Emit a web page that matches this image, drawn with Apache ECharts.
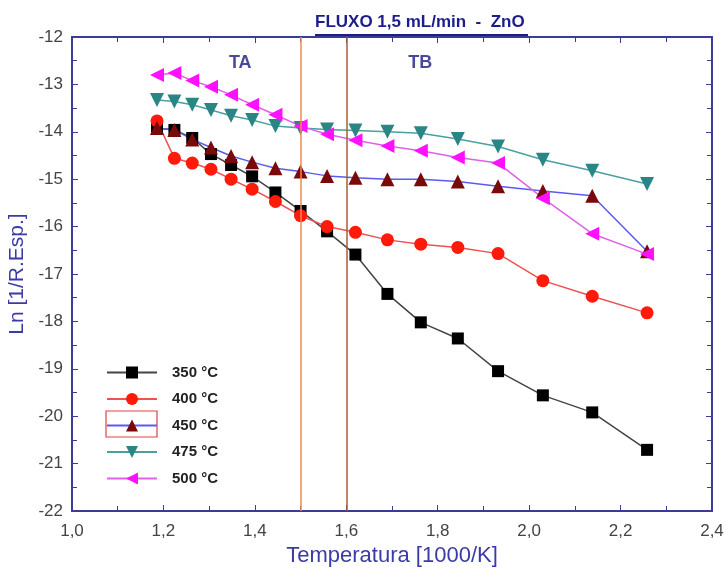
<!DOCTYPE html>
<html>
<head>
<meta charset="utf-8">
<script src="https://cdn.jsdelivr.net/npm/echarts@6/dist/echarts.min.js"></script>
<style>
  html, body { margin: 0; padding: 0; background: #fff; }
  #chart { width: 725px; height: 568px; }
</style>
</head>
<body>
<div id="chart"></div>
<script>
// 1000/T values (same for all curves)
var tempX = [1.186, 1.224, 1.263, 1.304, 1.348, 1.394, 1.445, 1.500, 1.558,
             1.620, 1.690, 1.763, 1.844, 1.932, 2.030, 2.138, 2.258];

var s350 = [-13.92, -13.96, -14.13, -14.47, -14.70, -14.94, -15.28, -15.67, -16.10,
            -16.59, -17.42, -18.02, -18.36, -19.05, -19.56, -19.92, -20.71];
var s400 = [-13.77, -14.56, -14.66, -14.79, -15.00, -15.21, -15.47, -15.77, -16.00,
            -16.12, -16.28, -16.37, -16.44, -16.57, -17.14, -17.47, -17.82];
var s450 = [-13.92, -13.96, -14.16, -14.33, -14.51, -14.64, -14.77, -14.84, -14.93,
            -14.97, -15.00, -15.00, -15.05, -15.15, -15.25, -15.35, -16.52];
var s475 = [-13.33, -13.36, -13.43, -13.54, -13.66, -13.75, -13.88, -13.92, -13.95,
            -13.97, -14.00, -14.03, -14.15, -14.31, -14.59, -14.82, -15.10];
var s500 = [-12.80, -12.76, -12.92, -13.05, -13.22, -13.43, -13.64, -13.88, -14.05,
            -14.18, -14.30, -14.40, -14.54, -14.66, -15.40, -16.15, -16.58];

var seriesNames = ['350 °C', '400 °C', '450 °C', '475 °C', '500 °C'];
var regionBounds = [1.5, 1.6];
var regionLabels = ['TA', 'TB'];
var regionLabelPos = [[1.368, -12.55], [1.762, -12.55]];

var axisColor = '#3b3b9a';
var tickFont = { color: '#444', fontSize: 17, fontFamily: 'Liberation Sans' };

function pairs(ys) {
    return tempX.map(function (x, i) { return [x, ys[i]]; });
}
function commaFmt(v) { return v.toFixed(1).replace('.', ','); }

var myChart = echarts.init(document.getElementById('chart'));
var option = {
    animation: false,
    backgroundColor: '#fff',
    grid: { left: 72, right: 13, top: 37, bottom: 57, outerBoundsMode: 'none' },
    legend: {
        data: seriesNames,
        orient: 'vertical',
        left: 101,
        top: 360,
        itemWidth: 50,
        itemHeight: 15,
        itemGap: 11.5,
        textStyle: { fontSize: 15, fontWeight: 'bold', color: '#222', fontFamily: 'Liberation Sans',
                     padding: [0, 0, 0, 10] }
    },
    graphic: [
        {
            type: 'text', left: 315, top: 14,
            style: { text: 'FLUXO 1,5 mL/min  -  ZnO', fill: '#1c1c8a',
                     font: 'bold 17px "Liberation Sans"' }
        },
        {
            type: 'line', shape: { x1: 315, y1: 35, x2: 528, y2: 35 },
            style: { stroke: '#1c1c8a', lineWidth: 2 }
        },
        {
            type: 'rect', shape: { x: 106, y: 411, width: 51, height: 26 },
            style: { fill: 'none', stroke: '#e04040', lineWidth: 1.2 }
        }
    ],
    xAxis: [
        {
            type: 'value', min: 1.0, max: 2.4, interval: 0.2,
            name: 'Temperatura [1000/K]', nameLocation: 'middle', nameGap: 29,
            nameTextStyle: { color: '#3b3ba8', fontSize: 22, fontFamily: 'Liberation Sans' },
            axisLine: { lineStyle: { color: axisColor, width: 2 } },
            axisTick: { inside: true, length: 6, lineStyle: { color: axisColor } },
            minorTick: { show: true, splitNumber: 2, length: 5, lineStyle: { color: axisColor } },
            splitLine: { show: false },
            axisLabel: Object.assign({ formatter: commaFmt, margin: 12 }, tickFont)
        },
        {
            type: 'value', min: 1.0, max: 2.4, interval: 0.2, position: 'top',
            axisLine: { lineStyle: { color: axisColor, width: 2 } },
            axisTick: { inside: true, length: 6, lineStyle: { color: axisColor } },
            minorTick: { show: true, splitNumber: 2, length: 5, lineStyle: { color: axisColor } },
            splitLine: { show: false },
            axisLabel: { show: false }
        }
    ],
    yAxis: [
        {
            type: 'value', min: -22, max: -12, interval: 1,
            name: 'Ln [1/R.Esp.]', nameLocation: 'middle', nameGap: 44,
            nameTextStyle: { color: '#3b3ba8', fontSize: 21, fontFamily: 'Liberation Sans' },
            axisLine: { show: true, lineStyle: { color: axisColor, width: 2 } },
            axisTick: { show: true, inside: true, length: 6, lineStyle: { color: axisColor } },
            minorTick: { show: true, splitNumber: 2, length: 5, lineStyle: { color: axisColor } },
            splitLine: { show: false },
            axisLabel: Object.assign({ margin: 9 }, tickFont)
        },
        {
            type: 'value', min: -22, max: -12, interval: 1, position: 'right',
            axisLine: { show: true, lineStyle: { color: axisColor, width: 2 } },
            axisTick: { show: true, inside: true, length: 6, lineStyle: { color: axisColor } },
            minorTick: { show: true, splitNumber: 2, length: 5, lineStyle: { color: axisColor } },
            splitLine: { show: false },
            axisLabel: { show: false }
        }
    ],
    series: [
        {
            name: seriesNames[0], type: 'line', data: pairs(s350),
            symbol: 'rect', symbolSize: 12,
            itemStyle: { color: '#000' },
            lineStyle: { color: '#444', width: 1.5 },
            markLine: {
                silent: true, symbol: 'none', label: { show: false },
                data: [
                    { xAxis: regionBounds[0], lineStyle: { color: '#f08a4b', type: 'solid', width: 1.5 } },
                    { xAxis: regionBounds[1], lineStyle: { color: '#a0603a', type: 'solid', width: 1.5 } }
                ]
            }
        },
        {
            name: seriesNames[1], type: 'line', data: pairs(s400),
            symbol: 'circle', symbolSize: 13,
            itemStyle: { color: '#ff1a0a' },
            lineStyle: { color: '#f05050', width: 1.5 }
        },
        {
            name: seriesNames[2], type: 'line', data: pairs(s450),
            symbol: 'triangle', symbolSize: 14,
            itemStyle: { color: '#7a0a0a' },
            lineStyle: { color: '#5a5af0', width: 1.5 }
        },
        {
            name: seriesNames[3], type: 'line', data: pairs(s475),
            symbol: 'triangle', symbolSize: 14, symbolRotate: 180,
            itemStyle: { color: '#2a8585' },
            lineStyle: { color: '#4aa0a0', width: 1.5 }
        },
        {
            name: seriesNames[4], type: 'line', data: pairs(s500),
            symbol: 'triangle', symbolSize: 14, symbolRotate: 90,
            itemStyle: { color: '#ff10ff' },
            lineStyle: { color: '#e060e8', width: 1.5 }
        },
        {
            name: 'regions', type: 'scatter', symbolSize: 0,
            data: regionLabelPos.map(function (p, i) { return { value: p, name: regionLabels[i] }; }),
            label: {
                show: true, position: 'inside', formatter: '{b}',
                color: '#1c1c80', fontSize: 18, fontWeight: 'bold', fontFamily: 'Liberation Sans'
            },
            silent: true
        }
    ]
};
myChart.setOption(option);
</script>
</body>
</html>
